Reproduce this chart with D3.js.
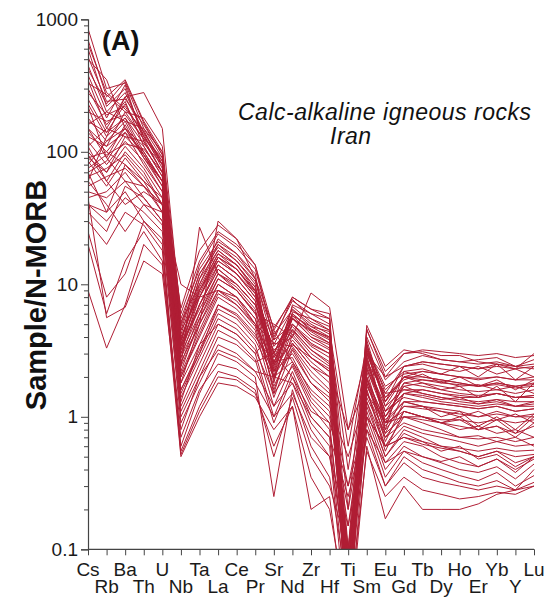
<!DOCTYPE html>
<html>
<head>
<meta charset="utf-8">
<script src="https://cdn.jsdelivr.net/npm/d3@7"></script>
<style>
  html, body { margin: 0; padding: 0; background: #fff; }
  svg { display: block; font-family: "Liberation Sans", Arial, Helvetica, sans-serif; }
</style>
</head>
<body>
<svg id="chart" width="547" height="602"></svg>
<script>
// Elements (x categories), in plotting order
const elements = ["Cs","Rb","Ba","Th","U","Nb","Ta","La","Ce","Pr","Sr","Nd","Zr","Hf","Ti","Sm","Eu","Gd","Tb","Dy","Ho","Er","Yb","Y","Lu"];
// Y-axis tick values
const yMajorTicks = [0.1, 1, 10, 100, 1000];
const yTickLabels = ["0.1", "1", "10", "100", "1000"];

// Sample/N-MORB values (order follows `elements`)
const highGroup = [
  [850,300,330,150,90,4.5,12,20,16,11,3.5,6.5,5,4.2,0.03,3.2,1.6,2.2,2.3,2.1,2.4,2.0,2.5,1.9,2.4],
  [700,260,350,170,100,5,14,24,19,13,4,7.5,6,5.5,0.04,4,1.9,2.6,2.9,2.7,2.6,2.5,2.6,2.4,2.5],
  [600,220,300,130,80,3.8,10,18,14,9.5,3,6,4.5,3.8,0.02,3,1.4,1.9,2.1,1.8,2.0,1.7,1.9,1.6,1.9],
  [520,240,250,160,95,4.2,11,22,17,11,2.5,6.8,5.2,4.5,0.05,3.5,1.2,2.0,1.8,1.6,1.7,1.4,1.7,1.3,1.8],
  [450,200,280,140,85,3.5,8,16,12,8,3.8,5,3.5,3,0.03,2.6,1.5,1.6,1.6,1.5,1.4,1.4,1.5,1.4,1.4],
  [380,180,320,120,70,3.2,9,15,12,8.5,2.2,5.5,4,3.5,0.06,2.8,1.0,1.7,1.5,1.4,1.35,1.3,1.35,1.3,1.3],
  [330,270,200,180,110,6,15,25,20,14,4.5,8,6.5,5.5,0.1,4.5,2.2,3.0,3.1,2.9,2.9,2.6,2.5,2.4,2.3],
  [300,160,240,110,65,2.8,7,13,10,7,2.8,4.5,3.2,2.5,0.04,2.3,1.1,1.4,1.3,1.25,1.2,1.15,1.2,1.1,1.15],
  [280,190,220,135,75,4.8,12,19,15,10,1.8,6.2,5.5,4.8,0.2,3.8,1.3,2.4,2.5,2.3,2.2,2.4,2.1,2.3,2.0],
  [250,140,180,100,60,2.5,6,11,9,6,3.2,4,2.8,2.2,0.05,2.0,0.9,1.3,1.2,1.0,1.1,0.85,1.0,0.8,1.05],
  [230,130,260,280,150,5.5,13,21,17,12,2.0,7,6,5,0.07,3.6,0.8,2.2,2.0,1.9,1.8,1.7,1.8,1.7,1.8],
  [200,170,190,125,90,3.0,8,14,11,7.5,2.6,5,3.8,3.2,0.03,2.5,1.2,1.6,1.5,1.4,1.3,1.25,1.3,1.2,1.25],
  [180,120,150,95,55,2.2,5.5,10,8,5.5,1.6,3.6,2.4,1.8,0.03,1.8,0.7,1.1,1.0,0.9,0.8,0.85,0.75,0.8,0.7],
  [650,280,210,145,80,4.0,9,17,13,9,2.4,5.8,4.2,3.6,0.02,2.9,0.9,1.8,1.7,1.6,1.5,1.45,1.5,1.4,1.45],
  [420,230,340,165,95,5.2,10,20,15,10.5,4.2,6.4,4.8,4.0,0.08,3.3,1.7,2.1,2.2,2.1,2.0,1.9,2.0,1.9,1.9],
  [160,200,170,150,100,3.6,11,18,14,9,3.0,5.5,4.4,3.6,0.04,3.0,1.3,2.0,2.0,1.9,1.8,1.7,1.8,1.7,1.75],
  [350,150,260,140,80,3.8,9.5,17,14,9.5,3.0,6.0,4.6,3.9,0.02,3.1,1.3,2.0,1.9,1.85,1.7,1.75,1.6,1.7,1.5]
];
const midGroup = [
  [150,90,160,90,55,2.4,5,9,7.5,5,3.6,3.4,2.2,1.6,0.1,1.7,0.9,1.1,1.0,0.9,1.0,0.8,0.95,0.75,1.0],
  [130,110,140,100,60,3.0,6,12,9.5,6.5,2.0,4.4,3.0,2.4,0.05,2.2,0.75,1.5,1.4,1.3,1.25,1.2,1.25,1.2,1.2],
  [120,80,120,85,50,2.0,4,8,6.5,4.5,1.4,3.2,1.8,1.4,0.3,1.6,0.6,1.0,0.9,0.8,0.7,0.72,0.65,0.7,0.6],
  [110,150,130,120,70,3.4,7,13,10,7,3.4,4.8,3.4,2.8,0.06,2.4,1.1,1.5,1.6,1.5,1.45,1.4,1.5,1.4,1.45],
  [100,70,110,75,45,1.8,3.5,7,5.8,4,2.6,2.8,1.5,1.1,0.15,1.4,0.7,0.9,0.8,0.75,0.7,0.68,0.7,0.65,0.7],
  [95,60,100,70,40,1.5,3,6,5,3.5,1.2,2.5,1.3,0.9,0.04,1.3,0.5,0.8,0.7,0.6,0.55,0.5,0.55,0.45,0.5],
  [90,100,150,110,65,4.5,8,15,12,8,2.8,5.5,4.5,4.0,0.4,3.2,1.4,2.0,2.2,2.1,2.0,1.95,2.0,1.9,2.0],
  [85,55,90,60,35,1.2,2.5,5,4.2,3,1.0,2.2,1.0,0.7,0.03,1.1,0.45,0.65,0.6,0.5,0.45,0.42,0.48,0.4,0.48],
  [80,120,170,95,60,2.6,5,10,8,5.5,2.2,3.8,2.6,2.0,0.08,1.9,0.85,1.2,1.15,1.1,1.05,1.0,1.05,1.0,1.0],
  [75,95,115,105,70,3.8,9,16,13,8.5,3.0,5.8,4.8,4.4,0.6,3.5,1.5,2.4,2.6,2.5,2.4,2.3,2.4,2.3,2.4],
  [70,85,140,80,50,2.1,4.5,9,7,4.8,1.7,3.3,2.0,1.5,0.05,1.6,0.55,1.1,1.0,0.9,0.95,0.8,0.85,0.7,0.9],
  [65,75,95,65,40,1.6,3.2,6.5,5.5,3.8,2.0,2.6,1.4,1.0,0.2,1.3,0.6,0.85,0.75,0.7,0.65,0.6,0.65,0.6,0.62],
  [60,130,180,115,80,3.2,7,14,11,7.5,1.9,5,3.6,3.0,0.03,2.6,1.0,1.7,1.8,1.7,1.6,1.55,1.6,1.5,1.6],
  [140,100,80,60,45,2.0,4.2,8.5,7,5,2.5,3.6,2.4,2.0,0.1,1.9,0.95,1.3,1.3,1.25,1.2,1.15,1.2,1.1,1.15],
  [55,65,75,55,35,1.4,2.8,5.5,4.6,3.2,1.5,2.4,1.2,0.8,0.05,1.2,0.5,0.75,0.65,0.55,0.6,0.48,0.52,0.42,0.5],
  [170,140,230,130,85,3.5,8.5,16,13,8.8,2.3,5.6,4.0,3.3,0.04,2.7,1.1,1.8,1.9,1.8,1.75,1.7,1.75,1.65,1.7],
  [45,50,70,45,30,1.1,2.2,4.5,3.8,2.7,0.9,2.0,0.9,0.6,0.02,1.0,0.4,0.6,0.5,0.45,0.4,0.38,0.42,0.34,0.44],
  [50,45,60,40,28,1.0,2.0,4.0,3.5,2.6,3.0,2.0,1.1,0.9,0.3,1.0,0.6,0.7,0.62,0.58,0.55,0.5,0.55,0.5,0.52],
  [150,110,200,125,70,3.4,6.5,12,10,7,2.6,4.6,3.2,2.6,0.03,2.3,1.0,1.5,1.45,1.35,1.4,1.25,1.35,1.2,1.3],
  [90,70,130,95,60,2.8,5.5,11,9,6.2,1.5,4.2,2.8,2.3,0.04,2.0,0.65,1.3,1.2,1.15,1.1,1.0,1.1,1.0,1.05]
];
const lowGroup = [
  [40,30,45,35,25,0.9,1.8,3.5,3.0,2.2,1.2,1.8,0.8,0.5,0.15,0.9,0.35,0.55,0.45,0.4,0.36,0.33,0.38,0.3,0.36],
  [30,20,35,28,18,0.6,1.5,3,2.6,2.0,0.25,1.6,0.6,0.35,0.05,0.8,0.3,0.5,0.4,0.36,0.32,0.3,0.33,0.28,0.4],
  [25,8,12,30,22,0.55,1.2,2.2,2.0,1.6,0.5,1.4,0.5,0.3,0.1,0.7,0.3,0.45,0.35,0.32,0.3,0.28,0.3,0.28,0.3],
  [20,6,15,25,15,0.5,1.0,1.8,1.7,1.4,0.8,1.2,0.2,0.25,0.02,0.6,0.17,0.3,0.2,0.2,0.2,0.22,0.26,0.28,0.32],
  [35,25,55,45,30,1.3,3.5,5,4.2,3.0,4.5,2.6,1.6,1.2,0.5,1.5,0.9,1.0,1.0,0.95,0.95,0.9,0.95,0.9,0.95],
  [9,3.3,7,20,14,0.8,2.0,3.2,2.8,2.2,2.0,1.8,1.0,0.7,0.25,1.0,0.6,0.7,0.65,0.6,0.58,0.55,0.58,0.55,0.56],
  [45,5.6,6.7,15,12,0.7,1.6,2.5,2.3,1.8,1.0,1.5,0.7,0.5,0.08,0.8,0.45,0.55,0.5,0.46,0.5,0.42,0.48,0.38,0.5],
  [60,40,25,40,35,2.4,27,12,9,6,5,4,8.6,6.7,0.8,3.0,2.0,2.4,2.6,2.5,2.4,2.3,2.5,2.3,3.0],
  [70,35,50,30,20,0.52,1.1,2.0,1.9,1.5,0.6,1.2,0.35,0.2,0.03,0.55,0.25,0.35,0.28,0.26,0.24,0.25,0.27,0.26,0.3],
  [110,60,40,50,40,1.8,5,30,22,11,4.7,7.7,5.5,4.5,0.06,4.9,2.4,3.2,3.0,2.7,2.6,2.7,2.8,2.4,2.7],
  [220,90,60,55,40,10,8,9,8,5,2.0,3.5,2.8,2.2,0.8,1.8,0.8,1.2,1.2,1.1,1.0,1.1,0.95,1.05,0.9],
  [500,350,150,90,60,6.6,18,28,22,14,3.8,8,6.5,6.0,0.05,4.6,2.0,3.0,3.2,3.1,3.0,2.9,3.0,2.8,2.9],
  [40,35,80,55,40,1.6,3.0,7,6,4.2,2.2,3.0,1.8,1.3,0.06,1.5,0.75,1.0,0.95,0.9,0.85,0.8,0.85,0.75,0.85]
];

const samples = [...highGroup, ...midGroup, ...lowGroup];

const svg = d3.select("#chart");
const plot = { left: 88, right: 534, top: 19.3, bottom: 549.3 };
const lineColor = "#b01e35";
const axisColor = "#444";

const x = d3.scalePoint().domain(elements).range([plot.left, plot.right]);
const y = d3.scaleLog().domain([0.1, 1000]).range([plot.bottom, plot.top]);

svg.append("defs").append("clipPath").attr("id", "clip")
  .append("rect")
  .attr("x", plot.left).attr("y", 0)
  .attr("width", plot.right - plot.left + 2)
  .attr("height", plot.bottom);

const line = d3.line()
  .x((d, i) => x(elements[i]))
  .y(d => y(d));

svg.append("g").attr("clip-path", "url(#clip)")
  .selectAll("path").data(samples).join("path")
  .attr("d", line)
  .attr("fill", "none")
  .attr("stroke", lineColor)
  .attr("stroke-width", 1)
  .attr("stroke-linejoin", "miter");

// Y axis: minor ticks
const minorTicks = [];
for (let e = -1; e < 3; e++) {
  for (let m = 2; m <= 9; m++) minorTicks.push(m * Math.pow(10, e));
}
svg.append("g")
  .attr("transform", `translate(${plot.left},0)`)
  .call(d3.axisLeft(y).tickValues(minorTicks).tickSize(4).tickFormat(""))
  .call(g => g.select(".domain").remove())
  .call(g => g.selectAll("line").attr("stroke", axisColor));

const yAxis = svg.append("g")
  .attr("transform", `translate(${plot.left},0)`)
  .call(d3.axisLeft(y).tickValues(yMajorTicks).tickSize(7).tickPadding(3)
    .tickFormat((d, i) => yTickLabels[i]));
yAxis.select(".domain").attr("stroke", axisColor).attr("stroke-width", 1.2);
yAxis.selectAll("line").attr("stroke", axisColor);
yAxis.selectAll("text")
  .attr("font-size", 19)
  .attr("font-family", "Liberation Sans, Arial, sans-serif")
  .attr("fill", "#1a1a1a");

// X axis
const xAxis = svg.append("g")
  .attr("transform", `translate(0,${plot.bottom})`)
  .call(d3.axisBottom(x).tickSize(6).tickSizeOuter(0).tickFormat(""));
xAxis.select(".domain").attr("stroke", axisColor).attr("stroke-width", 1.2)
  .attr("d", `M${plot.left},0H${plot.right}`);
xAxis.selectAll("line").attr("stroke", axisColor);

xAxis.selectAll("text.el").data(elements).join("text")
  .attr("class", "el")
  .attr("x", d => x(d))
  .attr("y", (d, i) => i % 2 === 0 ? 27 : 44)
  .attr("text-anchor", "middle")
  .attr("font-size", 19)
  .attr("fill", "#1a1a1a")
  .text(d => d);

// Y axis title
svg.append("text")
  .attr("transform", "translate(46,295) rotate(-90)")
  .attr("text-anchor", "middle")
  .attr("font-size", 29)
  .attr("font-weight", "bold")
  .attr("fill", "#111")
  .text("Sample/N-MORB");

// Panel label
svg.append("text")
  .attr("x", 102).attr("y", 50)
  .attr("font-size", 27)
  .attr("font-weight", "bold")
  .attr("fill", "#111")
  .text("(A)");

// Annotation
svg.append("text")
  .attr("x", 238).attr("y", 120)
  .attr("font-size", 23)
  .attr("letter-spacing", 0.5)
  .attr("font-style", "italic")
  .attr("fill", "#111")
  .text("Calc-alkaline igneous rocks");
svg.append("text")
  .attr("x", 330).attr("y", 144)
  .attr("font-size", 23)
  .attr("letter-spacing", 0.5)
  .attr("font-style", "italic")
  .attr("fill", "#111")
  .text("Iran");
</script>
</body>
</html>
